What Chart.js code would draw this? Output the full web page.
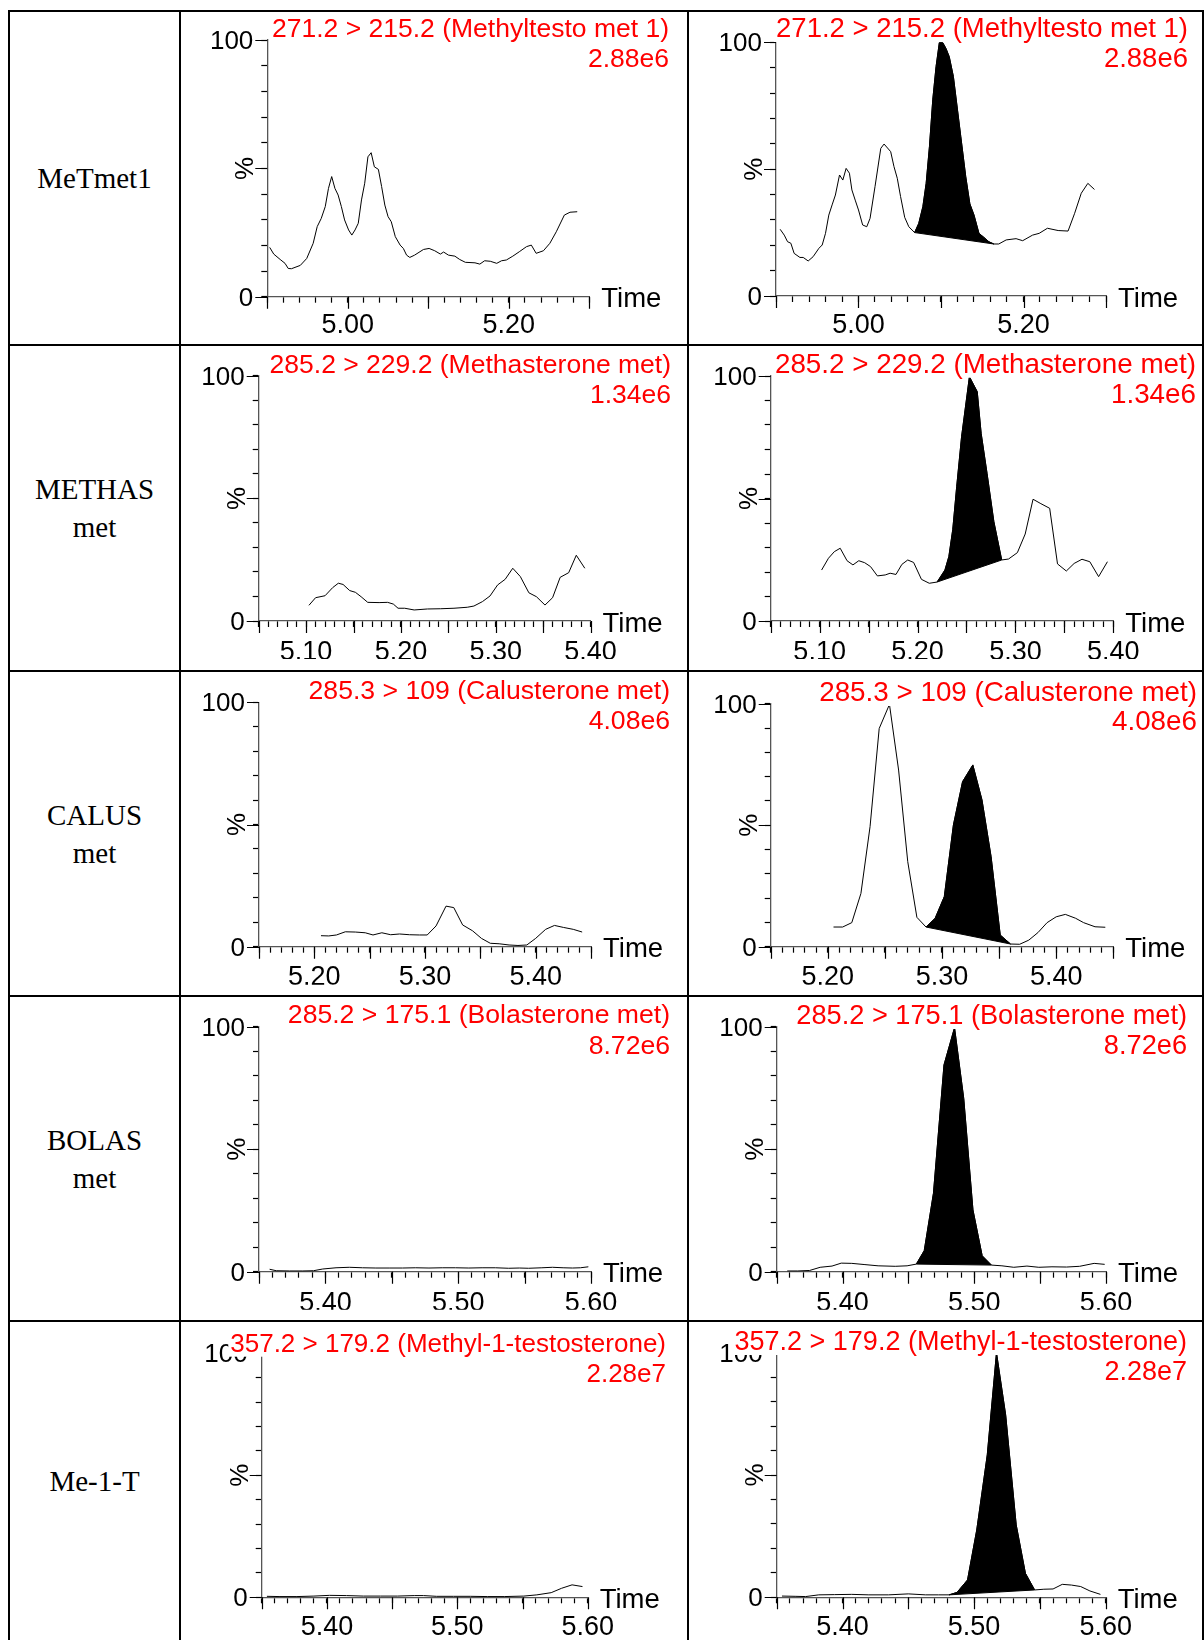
<!DOCTYPE html>
<html><head><meta charset="utf-8">
<script src="https://cdn.jsdelivr.net/npm/chart.js@4.4.1/dist/chart.umd.min.js"></script>
<style>
html,body{margin:0;padding:0;background:#fff;}
#page{position:relative;width:1204px;height:1640px;overflow:hidden;background:#fff;}
.ln{position:absolute;background:#000;}
.lab{position:absolute;display:flex;flex-direction:column;align-items:center;justify-content:center;text-align:center;font-family:'Liberation Serif','Times New Roman',serif;font-size:29px;line-height:38px;color:#000;}
canvas{position:absolute;}
</style></head><body><div id="page"></div>
<script>
// ---------------- DATA ----------------
const compoundNames = [['MeTmet1'], ['METHAS','met'], ['CALUS','met'], ['BOLAS','met'], ['Me-1-T']];
const transitions = ['271.2 > 215.2 (Methyltesto met 1)', '285.2 > 229.2 (Methasterone met)', '285.3 > 109 (Calusterone met)', '285.2 > 175.1 (Bolasterone met)', '357.2 > 179.2 (Methyl-1-testosterone)'];
const intensities = ['2.88e6', '1.34e6', '4.08e6', '8.72e6', '2.28e7'];
const xMins = [4.90, 5.05, 5.15, 5.35, 5.35];
const xMaxs = [5.30, 5.40, 5.45, 5.60, 5.60];
const xMinorSteps = [0.02, 0.01, 0.01, 0.01, 0.01];
const xMajorSteps = [0.10, 0.05, 0.05, 0.05, 0.05];
const xTickLabels = [['5.00','5.20'], ['5.10','5.20','5.30','5.40'], ['5.20','5.30','5.40'], ['5.40','5.50','5.60'], ['5.40','5.50','5.60']];
const yTickLabels = ['0', '100'];
const yLongTicks = [0, 50, 100];

const r1LeftTime = [4.903,4.908,4.916,4.922,4.926,4.930,4.941,4.949,4.957,4.962,4.967,4.972,4.976,4.980,4.984,4.988,4.992,4.996,5.001,5.005,5.009,5.013,5.017,5.021,5.025,5.029,5.033,5.038,5.042,5.046,5.050,5.054,5.059,5.065,5.069,5.073,5.077,5.083,5.094,5.101,5.108,5.115,5.119,5.125,5.133,5.139,5.146,5.158,5.164,5.170,5.177,5.185,5.191,5.197,5.205,5.213,5.222,5.228,5.234,5.243,5.251,5.259,5.269,5.276,5.285];
const r1LeftPct = [19.2,16.6,14.5,13.0,11.0,10.9,12.2,14.9,20.8,27.3,30.5,35.1,42.2,46.8,42.2,39.6,35.1,29.9,26.0,24.0,26.0,28.6,37.7,44.2,54.5,56.1,50.6,49.6,42.9,35.7,31.2,29.2,23.4,20.1,18.8,16.2,15.3,16.2,18.4,18.8,17.9,16.6,17.4,16.2,15.8,14.5,13.4,13.2,12.7,14.0,13.8,13.0,14.0,14.3,15.8,17.5,19.5,20.1,16.9,17.9,20.8,25.3,31.8,32.9,33.1];
const r1RightTime = [4.905,4.910,4.914,4.918,4.922,4.929,4.933,4.939,4.945,4.952,4.956,4.960,4.964,4.968,4.972,4.977,4.981,4.985,4.989,4.992,4.996,5.000,5.005,5.010,5.014,5.020,5.027,5.031,5.039,5.043,5.047,5.051,5.056,5.061,5.068,5.073,5.078,5.082,5.086,5.090,5.094,5.098,5.102,5.106,5.110,5.115,5.120,5.124,5.130,5.135,5.140,5.146,5.152,5.158,5.164,5.170,5.179,5.191,5.199,5.211,5.219,5.229,5.242,5.254,5.262,5.270,5.278,5.286];
const r1RightPct = [26.3,24.0,21.4,20.8,16.8,15.2,15.2,13.8,15.5,18.8,20.1,24.7,31.9,35.9,39.8,47.7,45.7,50.3,48.4,41.8,37.8,33.9,28.0,27.3,30.6,43.1,58.2,59.9,56.9,51.0,46.4,39.2,31.0,27.3,25.0,28.6,35.2,44.4,58.9,77.3,90.4,99.9,99.9,97.6,94.3,86.5,73.3,62.8,47.0,36.3,31.9,24.7,23.1,21.4,20.5,20.5,22.1,22.6,21.8,24.0,24.7,26.7,25.8,25.6,32.6,40.5,44.4,42.0];
const r1Peak = [5.068, 5.164];

const r2LeftTime = [5.103,5.110,5.120,5.128,5.134,5.139,5.146,5.152,5.158,5.165,5.177,5.186,5.192,5.197,5.204,5.214,5.228,5.242,5.256,5.270,5.277,5.286,5.294,5.302,5.310,5.318,5.326,5.335,5.343,5.352,5.360,5.368,5.377,5.385,5.394];
const r2LeftPct = [6.4,9.5,10.3,13.6,15.4,14.9,12.4,11.7,9.9,7.6,7.5,7.6,6.9,5.2,5.2,4.5,4.9,5.0,5.2,5.6,6.1,7.9,10.2,14.7,17.0,21.5,18.1,11.5,9.9,6.5,9.5,17.8,19.7,26.8,21.5];
const r2RightTime = [5.102,5.109,5.115,5.121,5.128,5.134,5.140,5.146,5.152,5.159,5.167,5.172,5.178,5.184,5.190,5.196,5.204,5.212,5.220,5.228,5.232,5.236,5.240,5.245,5.253,5.261,5.265,5.271,5.278,5.286,5.293,5.302,5.310,5.318,5.326,5.335,5.343,5.352,5.360,5.368,5.376,5.385,5.394];
const r2RightPct = [20.8,25.6,28.3,29.7,24.6,22.9,24.6,23.8,22.2,18.4,18.8,19.5,19.0,23.1,24.9,23.9,17.0,15.4,15.9,20.8,26.3,37.4,54.8,75.2,99.7,93.6,76.6,60.3,40.5,24.9,25.3,27.9,35.5,49.7,47.9,46.0,23.3,20.4,23.5,25.2,24.2,18.1,24.2];
const r2Peak = [5.220, 5.286];

const r3LeftTime = [5.206,5.213,5.220,5.228,5.237,5.246,5.253,5.261,5.269,5.277,5.286,5.295,5.302,5.310,5.319,5.326,5.334,5.343,5.351,5.359,5.367,5.376,5.384,5.392,5.400,5.409,5.417,5.425,5.434,5.442];
const r3LeftPct = [4.5,4.4,4.8,6.1,6.0,5.7,4.8,5.7,4.9,5.2,4.9,4.8,4.8,8.5,16.6,16.0,8.9,6.5,3.4,1.4,1.2,0.7,0.5,0.7,3.4,7.1,8.7,7.9,7.1,6.0];
const r3RightTime = [5.205,5.213,5.221,5.229,5.237,5.245,5.254,5.262,5.270,5.278,5.286,5.294,5.302,5.310,5.318,5.327,5.335,5.343,5.351,5.360,5.368,5.376,5.384,5.392,5.400,5.408,5.417,5.424,5.434,5.443];
const r3RightPct = [8.1,8.1,9.9,21.9,49.4,89.8,99.7,72.7,35.0,12.1,8.1,11.7,20.6,50.1,67.9,74.8,60.4,37.0,4.8,1.1,1.0,2.7,5.8,9.9,12.3,13.3,11.7,9.9,8.2,8.0];
const r3Peak = [5.286, 5.360];

const r4LeftTime = [5.358,5.363,5.373,5.383,5.391,5.398,5.408,5.418,5.428,5.438,5.448,5.458,5.468,5.478,5.488,5.498,5.508,5.518,5.528,5.538,5.546,5.553,5.563,5.571,5.579,5.586,5.592,5.598];
const r4LeftPct = [1.0,0.4,0.3,0.3,0.4,1.1,1.6,1.8,1.6,1.5,1.5,1.5,1.6,1.5,1.6,1.6,1.5,1.6,1.6,1.4,1.5,1.4,1.6,1.8,1.6,1.5,1.6,2.0];
const r4RightTime = [5.358,5.366,5.375,5.383,5.392,5.399,5.407,5.417,5.427,5.440,5.449,5.456,5.462,5.469,5.477,5.485,5.492,5.499,5.506,5.513,5.521,5.530,5.540,5.549,5.559,5.570,5.580,5.591,5.599];
const r4RightPct = [0.3,0.3,0.5,1.8,2.3,3.5,3.4,2.9,2.4,2.2,2.4,3.1,8.6,32.0,84.4,99.6,70.7,25.2,6.5,2.7,2.4,1.8,2.3,1.8,2.0,1.9,2.2,3.4,3.0];
const r4Peak = [5.456, 5.513];

const r5LeftTime = [5.354,5.364,5.377,5.390,5.402,5.415,5.428,5.441,5.454,5.467,5.474,5.484,5.497,5.510,5.523,5.536,5.551,5.561,5.572,5.580,5.588,5.596];
const r5LeftPct = [0.4,0.3,0.3,0.5,0.8,0.7,0.5,0.5,0.5,0.7,0.7,0.4,0.4,0.4,0.3,0.3,0.5,1.0,1.9,3.7,5.1,4.4];
const r5RightTime = [5.354,5.364,5.372,5.382,5.394,5.407,5.420,5.435,5.450,5.463,5.473,5.481,5.487,5.495,5.502,5.510,5.517,5.524,5.532,5.539,5.546,5.553,5.560,5.567,5.574,5.581,5.588,5.596];
const r5RightPct = [0.5,0.4,0.3,1.0,1.1,1.2,1.0,1.0,1.4,1.0,1.0,1.0,2.0,7.1,27.5,58.2,100,74.5,29.6,9.8,3.0,3.3,3.4,5.3,5.0,4.4,2.6,1.2];
const r5Peak = [5.481, 5.546];

const leftTraces = [[r1LeftTime,r1LeftPct],[r2LeftTime,r2LeftPct],[r3LeftTime,r3LeftPct],[r4LeftTime,r4LeftPct],[r5LeftTime,r5LeftPct]];
const rightTraces = [[r1RightTime,r1RightPct],[r2RightTime,r2RightPct],[r3RightTime,r3RightPct],[r4RightTime,r4RightPct],[r5RightTime,r5RightPct]];
const peakWindows = [r1Peak, r2Peak, r3Peak, r4Peak, r5Peak];

// ---------------- LAYOUT (page pixels) ----------------
const colLines = [9, 180, 688, 1203];
const rowLines = [11, 345, 671, 996, 1321];
const panelCols = [[181, 687], [689, 1202]];
const rowBands = [[12, 344], [346, 670], [672, 995], [997, 1320], [1322, 1640]];
// [axisLeft, axisRight, y100, y0, titleRight, titleBase1, titleBase2, labelPad, titleFontPx]
const panelBoxes = [
  [[267.3, 589.3, 40, 296.7, 669, 36.7, 66.7, 7, 26.5], [776, 1106, 42.3, 296, 1188, 37, 67, 7, 27.5]],
  [[258.7, 590.5, 375.7, 621, 671, 372.7, 403, 9, 26.5], [770.7, 1113.3, 376, 621, 1196, 372.7, 402.7, 9, 27.8]],
  [[259, 591, 702.3, 946.7, 670, 699, 729, 9, 26.6], [770.7, 1113.3, 703.7, 946.7, 1197, 701, 730, 9, 27.8]],
  [[259, 591, 1026.7, 1271.7, 670, 1023.3, 1054, 10, 26.6], [776.7, 1106, 1026.7, 1271.7, 1187, 1024, 1054, 10, 27.2]],
  [[261.7, 587.7, 1353.3, 1597.3, 666, 1351.7, 1382.3, 8, 26], [776.7, 1105.7, 1352.7, 1597.3, 1187, 1350, 1380, 8, 27]]
];
const YW = 70, XH = 38;
const sansFont = "'Liberation Sans', Arial, sans-serif";

// ---------------- HELPERS ----------------
function zip(xs, ys) { const n = Math.min(xs.length, ys.length); const o = []; for (let i = 0; i < n; i++) o.push({x: xs[i], y: ys[i]}); return o; }
function stepValues(min, max, step) { const n = Math.round((max - min) / step); const v = []; for (let i = 0; i <= n; i++) v.push(+(min + i * step).toFixed(4)); return v; }
function labelFor(list, v) { const f = list.find(l => Math.abs(parseFloat(l) - v) < 1e-6); return f === undefined ? '' : f; }

const decor = {
  id: 'decor',
  afterDraw(chart, args, o) {
    const ctx = chart.ctx, xs = chart.scales.x, ys = chart.scales.y;
    ctx.save();
    ctx.strokeStyle = '#000'; ctx.lineWidth = 1.2;
    ctx.beginPath();
    o.longX.forEach(v => { const px = Math.round(xs.getPixelForValue(v)) + 0.5; ctx.moveTo(px, ys.bottom); ctx.lineTo(px, ys.bottom + 12); });
    o.longY.forEach(v => { const py = Math.round(ys.getPixelForValue(v)) + 0.5; ctx.moveTo(xs.left - 12, py); ctx.lineTo(xs.left, py); });
    ctx.stroke();
    ctx.font = '27.5px ' + sansFont;
    ctx.fillStyle = '#000'; ctx.textAlign = 'left'; ctx.textBaseline = 'middle';
    ctx.fillText('Time', xs.right + 12, ys.bottom + 3);
    ctx.font = o.fontPx + 'px ' + sansFont;
    ctx.textAlign = 'right'; ctx.textBaseline = 'alphabetic';
    [[o.title, o.b1], [o.intensity, o.b2]].forEach(([t, b]) => {
      const w = ctx.measureText(t).width;
      ctx.fillStyle = '#fff'; ctx.fillRect(o.right - w - 2, b - 21, w + 4, 26);
      ctx.fillStyle = '#ff0000'; ctx.fillText(t, o.right, b);
    });
    ctx.restore();
  }
};

const page = document.getElementById('page');

// table lines
colLines.forEach(x => { const d = document.createElement('div'); d.className = 'ln'; d.style.cssText = `left:${x-1}px;top:${rowLines[0]-1}px;width:2px;height:${1640-rowLines[0]+1}px;`; page.appendChild(d); });
rowLines.forEach(y => { const d = document.createElement('div'); d.className = 'ln'; d.style.cssText = `left:${colLines[0]-1}px;top:${y-1}px;width:${1204-colLines[0]+1}px;height:2px;`; page.appendChild(d); });

// compound labels
compoundNames.forEach((lines, r) => {
  const d = document.createElement('div'); d.className = 'lab';
  d.style.left = (colLines[0] + 1) + 'px'; d.style.width = (colLines[1] - colLines[0] - 2) + 'px';
  d.style.top = rowBands[r][0] + 'px'; d.style.height = (rowBands[r][1] - rowBands[r][0]) + 'px';
  lines.forEach(t => { const s = document.createElement('div'); s.textContent = t; d.appendChild(s); });
  page.appendChild(d);
});

function addPanel(r, side) {
  const [cx0, cx1] = panelCols[side];
  const [cy0, cy1] = rowBands[r];
  const B = panelBoxes[r][side];
  const W = cx1 - cx0, H = cy1 - cy0;
  const cv = document.createElement('canvas');
  cv.width = W; cv.height = H;
  cv.style.left = cx0 + 'px'; cv.style.top = cy0 + 'px'; cv.style.width = W + 'px'; cv.style.height = H + 'px';
  page.appendChild(cv);

  const tr = side === 0 ? leftTraces[r] : rightTraces[r];
  const pts = zip(tr[0], tr[1]);
  const datasets = [{ data: pts, borderColor: '#000', borderWidth: 1, pointRadius: 0, tension: 0, fill: false }];
  if (side === 1) {
    const [p0, p1] = peakWindows[r];
    const peakPts = pts.filter(p => p.x >= p0 - 1e-6 && p.x <= p1 + 1e-6);
    const base = [peakPts[0], peakPts[peakPts.length - 1]];
    datasets.push({ data: peakPts, borderColor: '#000', borderWidth: 1, backgroundColor: '#000', pointRadius: 0, tension: 0, fill: '+1' });
    datasets.push({ data: base, borderColor: '#000', borderWidth: 1, pointRadius: 0, tension: 0, fill: false });
  }
  const xmin = xMins[r], xmax = xMaxs[r], minor = xMinorSteps[r];
  const gridOpts = { display: true, drawOnChartArea: false, drawTicks: true, tickLength: 6, tickColor: '#000', tickWidth: 1.2 };
  const borderOpts = { display: true, color: '#555', width: 1.3 };
  new Chart(cv, {
    type: 'line',
    data: { datasets },
    options: {
      responsive: false, animation: false, devicePixelRatio: 1, events: [],
      layout: { padding: { left: B[0] - YW - cx0, right: cx1 - B[1], top: B[2] - cy0, bottom: cy1 - B[3] - XH } },
      plugins: {
        legend: { display: false }, tooltip: { enabled: false }, title: { display: false },
        decor: { longX: stepValues(xmin, xmax, xMajorSteps[r]), longY: yLongTicks, title: transitions[r], intensity: intensities[r], right: B[4] - cx0, b1: B[5] - cy0, b2: B[6] - cy0, fontPx: B[8] }
      },
      scales: {
        x: {
          type: 'linear', position: 'bottom', min: xmin, max: xmax, bounds: 'data',
          afterBuildTicks: s => { s.ticks = stepValues(xmin, xmax, minor).map(v => ({ value: v })); },
          afterFit: s => { s.height = XH; },
          ticks: { autoSkip: false, maxRotation: 0, minRotation: 0, stepSize: minor, padding: B[7], color: '#000', font: { family: sansFont, size: 27 }, callback: v => labelFor(xTickLabels[r], v) },
          grid: gridOpts, border: borderOpts
        },
        y: {
          type: 'linear', position: 'left', min: 0, max: 100, bounds: 'data',
          afterBuildTicks: s => { s.ticks = stepValues(0, 100, 10).map(v => ({ value: v })); },
          afterFit: s => { s.width = YW; },
          ticks: { autoSkip: false, stepSize: 10, padding: 8, labelOffset: 2, color: '#000', font: { family: sansFont, size: 26 }, callback: v => labelFor(yTickLabels, v) },
          grid: gridOpts, border: borderOpts,
          title: { display: true, text: '%', color: '#000', font: { family: sansFont, size: 26 }, padding: { top: 33.4, bottom: 0 } }
        }
      }
    },
    plugins: [decor]
  });
}

for (let r = 0; r < 5; r++) { addPanel(r, 0); addPanel(r, 1); }
</script>
</body></html>
